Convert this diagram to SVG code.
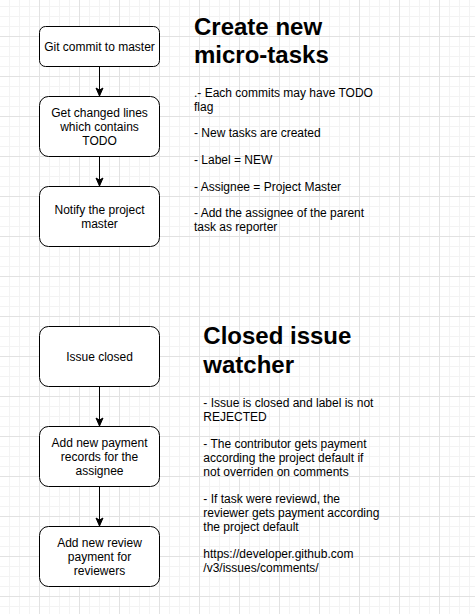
<svg xmlns="http://www.w3.org/2000/svg" width="475" height="614" viewBox="0 0 475 614">
<style>
.node rect{fill:#fff;stroke:#000;stroke-width:1}
.node text,.txt{font-family:"Liberation Sans",Arial,sans-serif;font-size:12px;fill:#000}
.node text{text-anchor:middle}
.title{font-family:"Liberation Sans",Arial,sans-serif;font-size:24px;font-weight:bold;fill:#000}
#connectors line{stroke:#000;stroke-width:1}
</style>
<defs>
<pattern id="grid" x="0" y="0" width="40" height="40" patternUnits="userSpaceOnUse">
<path d="M9.5 0V40M19.5 0V40M29.5 0V40M0 6.5H40M0 16.5H40M0 26.5H40" stroke="#f3f3f3" stroke-width="1" fill="none"/>
<path d="M39.5 0V40M0 36.5H40" stroke="#e2e2e2" stroke-width="1" fill="none"/>
</pattern>
<marker id="arrow" markerWidth="10" markerHeight="10" viewBox="0 0 10 10" refX="9" refY="5" orient="auto" markerUnits="userSpaceOnUse">
<path d="M9 5L1 1.5L3 5L1 8.5Z" fill="#000" stroke="#000" stroke-width="1"/>
</marker>
</defs>
<rect width="475" height="614" fill="#fff"/>
<rect width="475" height="614" fill="url(#grid)"/>
<g id="connectors">
<line x1="99.5" y1="66.5" x2="99.5" y2="96" marker-end="url(#arrow)"/>
<line x1="99.5" y1="156.5" x2="99.5" y2="186" marker-end="url(#arrow)"/>
<line x1="99.5" y1="386.5" x2="99.5" y2="426" marker-end="url(#arrow)"/>
<line x1="99.5" y1="486.5" x2="99.5" y2="526" marker-end="url(#arrow)"/>
</g>
<g id="n1" class="node"><rect x="39.5" y="26.5" width="120" height="40" rx="6"/><text x="99.5" y="50.7">Git commit to master</text></g>
<g id="n2" class="node"><rect x="39.5" y="96.5" width="120" height="60" rx="9"/><text x="99.5" y="116.7">Get changed lines</text><text x="99.5" y="130.7">which contains</text><text x="99.5" y="144.7">TODO</text></g>
<g id="n3" class="node"><rect x="39.5" y="186.5" width="120" height="60" rx="9"/><text x="99.5" y="213.7">Notify the project</text><text x="99.5" y="227.7">master</text></g>
<g id="n4" class="node"><rect x="39.5" y="326.5" width="120" height="60" rx="9"/><text x="99.5" y="360.8">Issue closed</text></g>
<g id="n5" class="node"><rect x="39.5" y="426.5" width="120" height="60" rx="9"/><text x="99.5" y="446.7">Add new payment</text><text x="99.5" y="460.7">records for the</text><text x="99.5" y="474.7">assignee</text></g>
<g id="n6" class="node"><rect x="39.5" y="526.5" width="120" height="60" rx="9"/><text x="99.5" y="546.7">Add new review</text><text x="99.5" y="560.7">payment for</text><text x="99.5" y="574.7">reviewers</text></g>
<g id="t1">
<text class="title" x="194" y="35">Create new</text>
<text class="title" x="194" y="63.3">micro-tasks</text>
<text class="txt" x="194" y="97.3">.- Each commits may have TODO</text>
<text class="txt" x="194" y="110.8">flag</text>
<text class="txt" x="194" y="137.3">- New tasks are created</text>
<text class="txt" x="194" y="164">- Label = NEW</text>
<text class="txt" x="194" y="190.5">- Assignee = Project Master</text>
<text class="txt" x="194" y="217">- Add the assignee of the parent</text>
<text class="txt" x="194" y="230.5">task as reporter</text>
</g>
<g id="t2">
<text class="title" x="203.3" y="344.3">Closed issue</text>
<text class="title" x="203.3" y="373">watcher</text>
<text class="txt" x="203.3" y="406.7">- Issue is closed and label is not</text>
<text class="txt" x="203.3" y="420.7">REJECTED</text>
<text class="txt" x="203.3" y="447.7">- The contributor gets payment</text>
<text class="txt" x="203.3" y="461.7">according the project default if</text>
<text class="txt" x="203.3" y="475.7">not overriden on comments</text>
<text class="txt" x="203.3" y="502.7">- If task were reviewd, the</text>
<text class="txt" x="203.3" y="516.7">reviewer gets payment according</text>
<text class="txt" x="203.3" y="530.7">the project default</text>
<text class="txt" x="203.3" y="557.7">https://developer.github.com</text>
<text class="txt" x="203.3" y="571.7">/v3/issues/comments/</text>
</g>
</svg>
